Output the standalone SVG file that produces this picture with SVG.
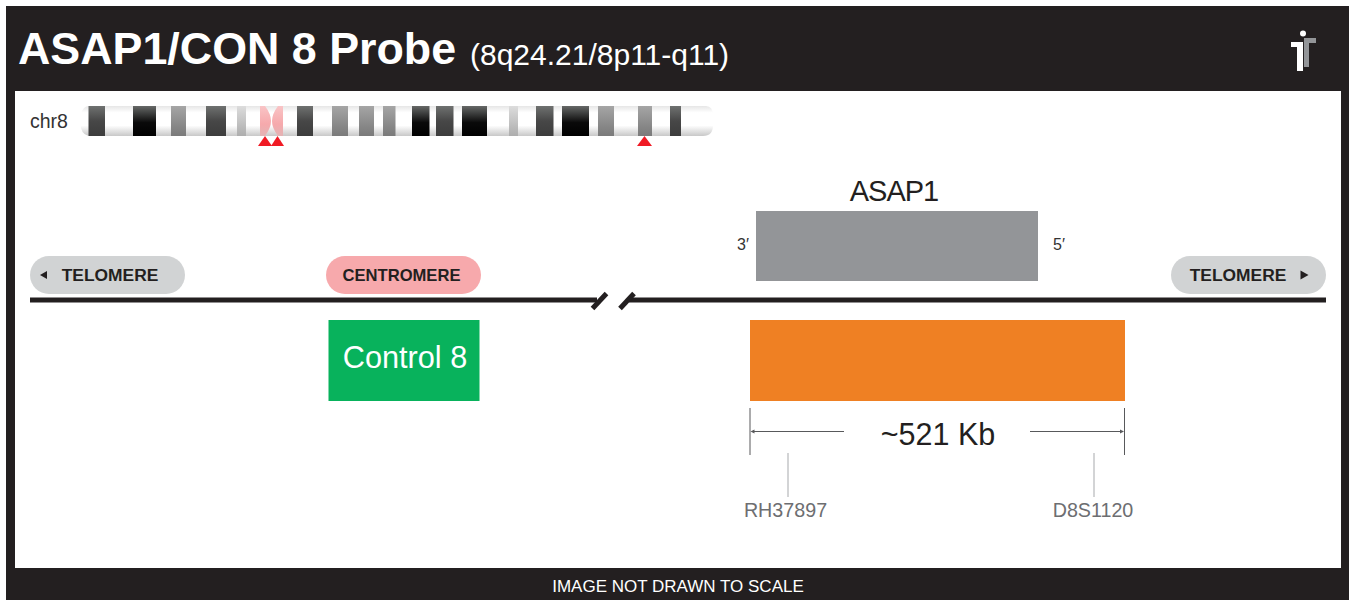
<svg xmlns="http://www.w3.org/2000/svg" width="1349" height="600" viewBox="0 0 1349 600">
<style>
text{font-family:"Liberation Sans",Arial,sans-serif}
.tag{font-size:17.400px;font-weight:bold;fill:#231f20;text-anchor:middle}
.mark{font-size:19.700px;fill:#6d6e71;text-anchor:middle}
.end{font-size:16px;fill:#333;text-anchor:middle}
.thin{stroke:#58595b;stroke-width:1;fill:none}
.lead{stroke:#a7a9ac;stroke-width:1;fill:none}
.axis{stroke:#231f20;stroke-width:5;fill:none}
.d{fill:url(#dark)}.k{fill:url(#black)}.m{fill:url(#mid)}.l{fill:url(#light)}.p{fill:url(#pink)}
.tri{fill:#f01a24}
</style>
<defs>
<linearGradient id="body" x1="0" y1="0" x2="0" y2="1"><stop offset="0" stop-color="#e6e6e6"/><stop offset=".22" stop-color="#fff"/><stop offset=".65" stop-color="#fff"/><stop offset="1" stop-color="#c8c8c8"/></linearGradient>
<linearGradient id="dark" x1="0" y1="0" x2="0" y2="1"><stop offset="0" stop-color="#6f7170"/><stop offset=".5" stop-color="#474747"/><stop offset="1" stop-color="#3c3c3c"/></linearGradient>
<linearGradient id="black" x1="0" y1="0" x2="0" y2="1"><stop offset="0" stop-color="#666867"/><stop offset=".55" stop-color="#0a0a0a"/><stop offset="1" stop-color="#000"/></linearGradient>
<linearGradient id="mid" x1="0" y1="0" x2="0" y2="1"><stop offset="0" stop-color="#a5a5a5"/><stop offset=".6" stop-color="#8a8a8a"/><stop offset="1" stop-color="#7a7a7a"/></linearGradient>
<linearGradient id="light" x1="0" y1="0" x2="0" y2="1"><stop offset="0" stop-color="#dcdcdc"/><stop offset="1" stop-color="#adadad"/></linearGradient>
<linearGradient id="pink" x1="0" y1="0" x2="0" y2="1"><stop offset="0" stop-color="#f9c4c6"/><stop offset=".6" stop-color="#f6a9ac"/><stop offset="1" stop-color="#e3b4b5"/></linearGradient>
</defs>
<rect x="6" y="6" width="1343" height="594" fill="#231f20"/>
<rect x="15" y="91" width="1326" height="477" fill="#fff"/>
<g id="header">
<text x="18" y="64" font-size="44.800" font-weight="bold" fill="#fff">ASAP1/CON 8 Probe</text>
<text x="470" y="65" font-size="30" fill="#fff">(8q24.21/8p11-q11)</text>
</g>
<g id="logo">
<path d="M1304 38h12v5h-7v24h-5z" fill="#939598"/>
<path d="M1291 42h12v29h-6V47h-6z" fill="#fff"/>
<circle cx="1303" cy="33.500" r="3" fill="#fff"/>
</g>
<g id="ideogram">
<text x="30" y="128" font-size="19.500" fill="#333">chr8</text>
<path d="M89 106H706Q713 106 713 116V125Q713 136 703 136H91Q83 136 81 128V114Q83 106 89 106Z" fill="url(#body)"/>
<rect class="d" x="88.500" y="106" width="16.500" height="30"/>
<rect class="k" x="133" y="106" width="23" height="30"/>
<rect class="m" x="171" y="106" width="15" height="30"/>
<rect class="d" x="206" y="106" width="20" height="30"/>
<rect class="l" x="237" y="106" width="9" height="30"/>
<path class="p" d="M260 106h5q6 8 6 15t-6 15h-5z"/>
<path class="p" d="M283 106h-5q-6 8-6 15t6 15h5z"/>
<rect class="d" x="297" y="106" width="16" height="30"/>
<rect class="m" x="332" y="106" width="16" height="30"/>
<rect class="m" x="359" y="106" width="15" height="30"/>
<rect class="m" x="383" y="106" width="12.500" height="30"/>
<rect class="k" x="412" y="106" width="17.500" height="30"/>
<rect class="d" x="436" y="106" width="17.500" height="30"/>
<rect class="k" x="462" y="106" width="25" height="30"/>
<rect class="l" x="509" y="106" width="9" height="30"/>
<rect class="d" x="536" y="106" width="17.500" height="30"/>
<rect class="k" x="562" y="106" width="27" height="30"/>
<rect class="m" x="598" y="106" width="16" height="30"/>
<rect class="m" x="638" y="106" width="14" height="30"/>
<rect class="d" x="670" y="106" width="11" height="30"/>
<path class="tri" d="M258 146l7-10 7 10z"/>
<path class="tri" d="M271 146l6.500-10 6.500 10z"/>
<path class="tri" d="M637 146l7.500-10 7.500 10z"/>
</g>
<g id="connectors">
<path class="axis" d="M30 300H597"/>
<path class="axis" d="M629 300H1326"/>
<path class="axis" d="M592.500 308.500L606.500 293.500"/>
<path class="axis" d="M620 308.500L634 293.500"/>
<path class="thin" d="M750 408V455M1124.500 408V455"/>
<path class="thin" d="M752 431.500H844M1030 431.500H1123"/>
<path d="M750.500 431.500l4-2v4z" fill="#58595b"/>
<path d="M1124 431.500l-4-2v4z" fill="#58595b"/>
<path class="lead" d="M788 453V497M1094 453V497"/>
</g>
<g id="telomere-left">
<rect x="30" y="256" width="155" height="38" rx="19" fill="#d1d3d4"/>
<path d="M40 275l7-4v8z" fill="#231f20"/>
<text class="tag" x="110" y="281">TELOMERE</text>
</g>
<g id="centromere">
<rect x="326" y="256" width="155" height="38" rx="19" fill="#f7a9ac"/>
<text class="tag" x="401.500" y="281" style="font-size:16.600px">CENTROMERE</text>
</g>
<g id="telomere-right">
<rect x="1171" y="256" width="155" height="38" rx="19" fill="#d1d3d4"/>
<path d="M1308.500 275l-8-4.500v9z" fill="#231f20"/>
<text class="tag" x="1238" y="281">TELOMERE</text>
</g>
<g id="asap1">
<text x="894" y="201" font-size="29" letter-spacing="-1" fill="#231f20" text-anchor="middle">ASAP1</text>
<rect x="756" y="211" width="282" height="70" fill="#939598"/>
<text class="end" x="743" y="250">3′</text>
<text class="end" x="1059" y="250">5′</text>
</g>
<g id="control-8">
<rect x="328.500" y="320" width="151" height="81" fill="#08b25c"/>
<text x="405" y="368" font-size="30.700" fill="#fff" text-anchor="middle">Control 8</text>
</g>
<g id="probe">
<rect x="750" y="320" width="375" height="81" fill="#ef8023"/>
<text x="938" y="445" font-size="30.500" fill="#231f20" text-anchor="middle">~521 Kb</text>
</g>
<g id="rh37897"><text class="mark" x="785.500" y="517">RH37897</text></g>
<g id="d8s1120"><text class="mark" x="1093" y="517">D8S1120</text></g>
<text x="678" y="592" font-size="17" fill="#fff" text-anchor="middle">IMAGE NOT DRAWN TO SCALE</text>
</svg>
